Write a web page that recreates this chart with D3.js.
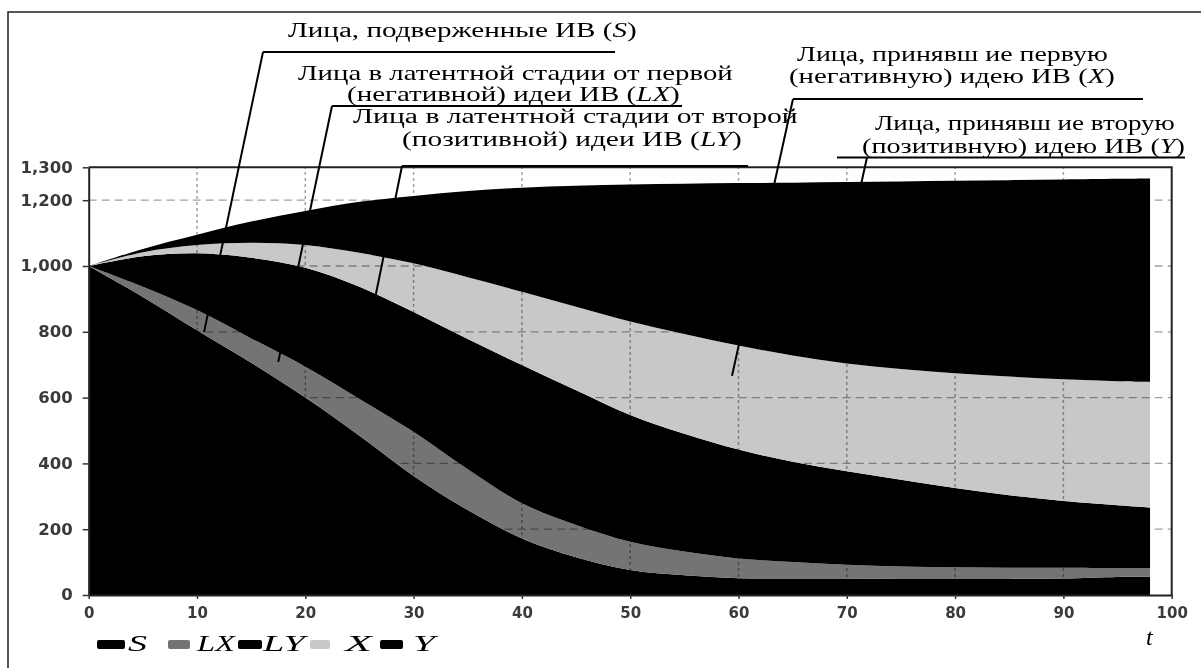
<!DOCTYPE html>
<html>
<head>
<meta charset="utf-8">
<script src="https://cdn.jsdelivr.net/npm/d3@7"></script>
<style>
  html, body { margin: 0; padding: 0; background: #fff; }
  svg { display: block; }
</style>
</head>
<body>
<div id="chart"></div>
<script>
// time points (t) and the five compartments
const tVals  = [0, 5, 10, 15, 20, 25, 30, 35, 40, 45, 50, 55, 60, 65, 70, 75, 80, 85, 90, 95, 98];
const sVals  = [1000, 906, 805, 706, 600, 484, 362, 258, 172, 115, 76, 60, 51, 50, 50, 49, 49, 49, 50, 55, 55];
const lxVals = [0, 31, 61, 74, 94, 112, 134, 124, 107, 98, 86, 72, 60, 50, 42, 38, 35, 34, 33, 27, 27];
const lyVals = [0, 93, 173, 245, 301, 341, 364, 396, 420, 409, 385, 358, 331, 305, 284, 263, 241, 220, 203, 191, 184];
const xVals  = [0, 12, 25, 46, 69, 103, 148, 188, 223, 254, 284, 303, 316, 323, 328, 337, 349, 361, 370, 377, 382];
const yVals  = [0, 10, 31, 64, 103, 155, 205, 262, 316, 368, 417, 457, 494, 525, 551, 570, 585, 597, 607, 615, 618];

const keys = ["S", "LX", "LY", "X", "Y"];
const fills = ["#000", "#747474", "#000", "#c8c8c8", "#000"];
const xTicks = [0, 10, 20, 30, 40, 50, 60, 70, 80, 90, 100];
const yTicks = [0, 200, 400, 600, 800, 1000, 1200, 1300];

const width = 1201, height = 668;
const svg = d3.select("#chart").append("svg")
  .attr("width", width)
  .attr("height", height);

svg.append("rect").attr("width", width).attr("height", height).attr("fill", "#fff");

const x = d3.scaleLinear().domain([0, 100]).range([88.7, 1171.7]);
const y = d3.scaleLinear().domain([0, 1300]).range([595, 167.3]);

const rows = tVals.map((t, i) => ({
  t: t, S: sVals[i], LX: lxVals[i], LY: lyVals[i], X: xVals[i], Y: yVals[i]
}));
const series = d3.stack().keys(keys)(rows);

const area = d3.area()
  .x(d => x(d.data.t))
  .y0(d => y(d[0]))
  .y1(d => y(d[1]))
  .curve(d3.curveCatmullRom.alpha(0.5));

svg.append("g")
  .selectAll("path")
  .data(series)
  .join("path")
  .attr("fill", (d, i) => fills[i])
  .attr("d", area);

// grid (multiply so it vanishes over black areas)
const grid = svg.append("g").style("mix-blend-mode", "multiply");
grid.selectAll(".hg")
  .data(yTicks.filter(v => v > 0 && v < 1300))
  .join("line")
  .attr("x1", x(0)).attr("x2", x(100))
  .attr("y1", d => y(d)).attr("y2", d => y(d))
  .attr("stroke", "#a0a0a0").attr("stroke-width", 1.3)
  .attr("stroke-dasharray", "8,5");
grid.selectAll(".vg")
  .data(xTicks.filter(v => v > 0 && v < 100))
  .join("line")
  .attr("x1", d => x(d)).attr("x2", d => x(d))
  .attr("y1", y(0)).attr("y2", y(1300))
  .attr("stroke", "#a0a0a0").attr("stroke-width", 1.5)
  .attr("stroke-dasharray", "3,3");

// axes
const xAxis = svg.append("g")
  .attr("transform", `translate(0,${y(0)})`)
  .call(d3.axisBottom(x).tickValues(xTicks).tickSize(4).tickSizeOuter(0));
const yAxis = svg.append("g")
  .attr("transform", `translate(${x(0)},0)`)
  .call(d3.axisLeft(y).tickValues(yTicks).tickFormat(d3.format(",")).tickSize(6).tickSizeOuter(0));

[xAxis, yAxis].forEach(g => {
  g.select(".domain").attr("stroke", "#222").attr("stroke-width", 2);
  g.selectAll(".tick line").attr("stroke", "#333").attr("stroke-width", 1.5);
  g.selectAll(".tick text")
    .attr("fill", "#3a3a3a")
    .style("font-family", "DejaVu Sans")
    .style("font-weight", "bold")
    .style("font-size", "15px");
});
xAxis.selectAll(".tick text").attr("dy", "1.05em");
yAxis.selectAll(".tick text").attr("x", -16);
// labels in the picture are a little wider than the font
yAxis.selectAll(".tick text").each(function () {
  const w = this.getComputedTextLength();
  d3.select(this).attr("textLength", w * 1.1).attr("lengthAdjust", "spacingAndGlyphs");
});

// frame top / right
svg.append("path")
  .attr("d", `M${x(0)},${y(1300)}H${x(100)}V${y(0)}`)
  .attr("fill", "none").attr("stroke", "#222").attr("stroke-width", 2);

// outer border
svg.append("path")
  .attr("d", "M8,668V12H1201")
  .attr("fill", "none").attr("stroke", "#222").attr("stroke-width", 1.5);

// stretched text helper
function stretchText(g, parts, x0, y0, w, size) {
  const t = g.append("text")
    .style("font-family", "'Liberation Serif', 'Times New Roman', serif")
    .style("font-size", size + "px")
    .attr("fill", "#000");
  parts.forEach(p => {
    t.append("tspan").text(p[0]).style("font-style", p[1] ? "italic" : "normal");
  });
  const w0 = t.node().getComputedTextLength();
  t.attr("transform", `translate(${x0},${y0}) scale(${w / w0},1)`);
  return t;
}

// annotations
const notes = [
  { lines: [[[["Лица, подверженные ИВ (", 0], ["S", 1], [")", 0]], 288, 37, 349]],
    ul: [263, 615, 52], from: 263, end: [10.65, 799] },
  { lines: [[[["Лица в латентной стадии от первой", 0]], 298, 80, 435],
            [[["(негативной) идеи ИВ (", 0], ["LX", 1], [")", 0]], 347, 101, 333]],
    ul: [332, 682, 106], from: 332, end: [17.5, 708] },
  { lines: [[[["Лица в латентной стадии от второй", 0]], 353, 123, 445],
            [[["(позитивной) идеи ИВ  (", 0], ["LY", 1], [")", 0]], 402, 146, 340]],
    ul: [402, 748, 166], from: 402, end: [26.4, 895] },
  { lines: [[[["Лица, принявш ие первую", 0]], 797, 61, 311],
            [[["(негативную) идею ИВ (", 0], ["X", 1], [")", 0]], 789, 83, 326]],
    ul: [793, 1143, 99], from: 793, end: [59.4, 666] },
  { lines: [[[["Лица, принявш ие вторую", 0]], 875, 130, 300],
            [[["(позитивную) идею ИВ (", 0], ["Y", 1], [")", 0]], 862, 153, 323]],
    ul: [837, 1185, 157.5], from: 867, end: [71.2, 1231] }
];

const ann = svg.append("g");
notes.forEach(n => {
  n.lines.forEach(l => stretchText(ann, l[0], l[1], l[2], l[3], 20));
  ann.append("line")
    .attr("x1", n.ul[0]).attr("x2", n.ul[1])
    .attr("y1", n.ul[2]).attr("y2", n.ul[2])
    .attr("stroke", "#000").attr("stroke-width", 2);
  ann.append("line")
    .attr("x1", n.from).attr("y1", n.ul[2])
    .attr("x2", x(n.end[0])).attr("y2", y(n.end[1]))
    .attr("stroke", "#000").attr("stroke-width", 2);
});

// legend
const legendItems = [
  { sw: [97, 125], tx: 128, tw: 19 },
  { sw: [168, 190], tx: 197, tw: 38 },
  { sw: [238, 262], tx: 263, tw: 42 },
  { sw: [310, 330], tx: 345, tw: 27 },
  { sw: [380, 403], tx: 413, tw: 22 }
];
const legend = svg.append("g");
legendItems.forEach((it, i) => {
  legend.append("rect")
    .attr("x", it.sw[0]).attr("y", 640)
    .attr("width", it.sw[1] - it.sw[0]).attr("height", 9)
    .attr("rx", 2)
    .attr("fill", fills[i]);
  stretchText(legend, [[keys[i], 1]], it.tx, 651, it.tw, 24);
});

// t axis label
svg.append("text")
  .attr("x", 1146).attr("y", 645)
  .style("font-family", "'Liberation Serif', 'Times New Roman', serif")
  .style("font-style", "italic")
  .style("font-size", "24px")
  .text("t");
</script>
</body>
</html>
